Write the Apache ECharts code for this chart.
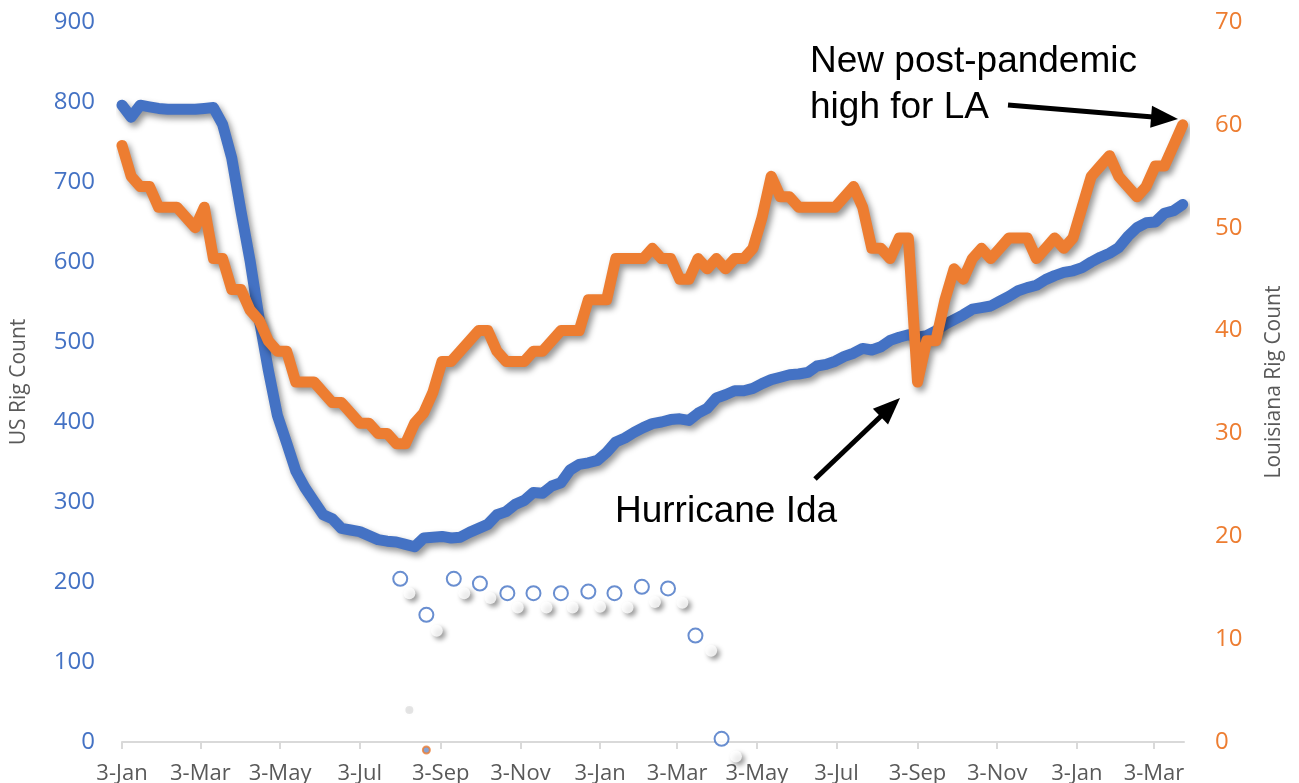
<!DOCTYPE html>
<html>
<head>
<meta charset="utf-8">
<script src="https://cdn.jsdelivr.net/npm/echarts@6/dist/echarts.min.js"></script>
<style>html,body{margin:0;padding:0;background:#fff}#chart{width:1299px;height:783px}</style>
</head>
<body>
<div id="chart"></div>
<script>
// ---- data (weekly, Fridays) ----
const firstWeek = '2020-01-03';
const weekCount = 117;
const usRigCount = [
  796, 781, 796, 794, 792, 791, 791, 791, 791, 792, 793, 772, 730, 664, 602, 529, 465, 408, 374, 339,
  318, 301, 284, 279, 267, 265, 263, 258, 253, 251, 250, 247, 244, 255, 256, 257, 255, 256, 262, 267,
  272, 284, 288, 297, 302, 312, 311, 320, 324, 340, 347, 349, 352, 362, 375, 380, 387, 393, 398, 400,
  403, 404, 402, 411, 417, 430, 434, 439, 439, 442, 448, 453, 456, 459, 460, 462, 470, 472, 476, 482,
  486, 492, 490, 494, 502, 506, 509, 506, 508, 514, 522, 528, 534, 541, 543, 545, 551, 557, 564, 568,
  571, 578, 583, 587, 589, 593, 600, 606, 611, 618, 632, 643, 649, 650, 661, 664, 672
];
const laRigCount = [
  58, 55, 54, 54, 52, 52, 52, 51, 50, 52, 47, 47, 44, 44, 42, 41, 39, 38, 38, 35,
  35, 35, 34, 33, 33, 32, 31, 31, 30, 30, 29, 29, 31, 32, 34, 37, 37, 38, 39, 40,
  40, 38, 37, 37, 37, 38, 38, 39, 40, 40, 40, 43, 43, 43, 47, 47, 47, 47, 48, 47,
  47, 45, 45, 47, 46, 47, 46, 47, 47, 48, 51, 55, 53, 53, 52, 52, 52, 52, 52, 53,
  54, 52, 48, 48, 47, 49, 49, 35, 39, 39, 43, 46, 45, 47, 48, 47, 48, 49, 49, 49,
  47, 48, 49, 48, 49, 52, 55, 56, 57, 55, 54, 53, 54, 56, 56, 58, 60
];
const tickDates = [
  '2020-01-03', '2020-03-03', '2020-05-03', '2020-07-03', '2020-09-03', '2020-11-03',
  '2021-01-03', '2021-03-03', '2021-05-03', '2021-07-03', '2021-09-03', '2021-11-03',
  '2022-01-03', '2022-03-03'
];
const axisEndDate = '2022-03-26';
const monthNames = ['Jan','Feb','Mar','Apr','May','Jun','Jul','Aug','Sep','Oct','Nov','Dec'];

// stray markers visible in the reference
const circleDates = ['2020-08-03','2020-08-23','2020-09-13','2020-10-03','2020-10-24','2020-11-13',
  '2020-12-04','2020-12-25','2021-01-14','2021-02-04','2021-02-24','2021-03-17','2021-04-06'];
const circleValues = [204, 159, 204, 198, 186, 186, 186, 188, 186, 194, 192, 133, 4];
const whiteDotDates = ['2020-08-10','2020-08-31','2020-09-21','2020-10-11','2020-11-01','2020-11-23',
  '2020-12-13','2021-01-03','2021-01-24','2021-02-14','2021-03-07','2021-03-29','2021-04-17'];
const whiteDotValues = [186, 139, 186, 180, 168, 168, 168, 169, 168, 175, 174, 114, -18];
const greyDotDates = ['2020-08-10'];
const greyDotValues = [40];
const orangeDotDates = ['2020-08-23'];
const orangeDotValues = [-10];

// ---- build ----
const DAY = 86400000;
const ts = s => Date.parse(s + 'T00:00:00Z');
const t0 = ts(firstWeek);
const weeks = [];
for (let i = 0; i < weekCount; i++) weeks.push(t0 + i * 7 * DAY);
const usData = weeks.map((t, i) => [t, usRigCount[i]]);
const laData = weeks.map((t, i) => [t, laRigCount[i]]);
const pairs = (d, v) => d.map((s, i) => [ts(s), v[i]]);
const tickValues = tickDates.map(ts);

const BLUE = '#4472C4', ORANGE = '#ED7D31', GREY = '#595959';
const FONT = '"Open Sans", "Noto Sans", sans-serif';
const ANNO_FONT = '37px "Liberation Sans", Arial, sans-serif';

function arrow(x1, y1, x2, y2, headLen, headHalf, width) {
  const dx = x2 - x1, dy = y2 - y1, len = Math.hypot(dx, dy);
  const ux = dx / len, uy = dy / len, px = -uy, py = ux;
  const bx = x2 - ux * headLen, by = y2 - uy * headLen;
  return [
    { type: 'line', shape: { x1: x1, y1: y1, x2: bx + ux * 2, y2: by + uy * 2 },
      style: { stroke: '#000', lineWidth: width }, z: 100 },
    { type: 'polygon', shape: { points: [[x2, y2], [bx + px * headHalf, by + py * headHalf], [bx - px * headHalf, by - py * headHalf]] },
      style: { fill: '#000' }, z: 100 }
  ];
}

const chart = echarts.init(document.getElementById('chart'), null, { renderer: 'canvas' });
chart.setOption({
  backgroundColor: '#ffffff',
  animation: false,
  grid: { left: 122, right: 115, top: 22, bottom: 41, containLabel: false, outerBoundsMode: 'none' },
  xAxis: {
    type: 'value',
    min: t0,
    max: ts(axisEndDate),
    splitLine: { show: false },
    axisLine: { show: true, lineStyle: { color: '#D9D9D9', width: 2 } },
    axisTick: { show: true, customValues: tickValues, length: 7, lineStyle: { color: '#D9D9D9', width: 2 } },
    axisLabel: {
      customValues: tickValues,
      margin: 21,
      color: GREY, fontSize: 22, fontFamily: FONT,
      formatter: v => { const d = new Date(v); return d.getUTCDate() + '-' + monthNames[d.getUTCMonth()]; }
    }
  },
  yAxis: [
    {
      type: 'value', min: 0, max: 900, interval: 100, position: 'left',
      name: 'US Rig Count', nameLocation: 'middle', nameGap: 92, nameRotate: 90,
      nameTextStyle: { color: GREY, fontSize: 21, fontFamily: FONT },
      splitLine: { show: false }, axisLine: { show: false }, axisTick: { show: false },
      axisLabel: { color: BLUE, fontSize: 24, fontFamily: FONT, margin: 27 }
    },
    {
      type: 'value', min: 0, max: 70, interval: 10, position: 'right',
      name: 'Louisiana Rig Count', nameLocation: 'middle', nameGap: 80, nameRotate: 90,
      nameTextStyle: { color: GREY, fontSize: 21, fontFamily: FONT },
      splitLine: { show: false }, axisLine: { show: false }, axisTick: { show: false },
      axisLabel: { color: ORANGE, fontSize: 24, fontFamily: FONT, margin: 31 }
    }
  ],
  series: [
    {
      name: 'US Rig Count', type: 'line', yAxisIndex: 0, data: usData,
      symbol: 'none', smooth: false, z: 2,
      lineStyle: { color: BLUE, width: 11, join: 'round', cap: 'round',
        shadowColor: 'rgba(0,0,0,0.42)', shadowBlur: 6, shadowOffsetX: 3, shadowOffsetY: 4 }
    },
    {
      name: 'Louisiana Rig Count', type: 'line', yAxisIndex: 1, data: laData,
      symbol: 'none', smooth: false, z: 3,
      lineStyle: { color: ORANGE, width: 11, join: 'round', cap: 'round',
        shadowColor: 'rgba(0,0,0,0.42)', shadowBlur: 6, shadowOffsetX: 3, shadowOffsetY: 4 }
    },
    {
      type: 'scatter', yAxisIndex: 0, data: pairs(whiteDotDates, whiteDotValues), clip: false,
      symbol: 'circle', symbolSize: 12, z: 4, silent: true,
      itemStyle: { color: '#ffffff', shadowColor: 'rgba(0,0,0,0.5)', shadowBlur: 5, shadowOffsetX: 3, shadowOffsetY: 3 }
    },
    {
      type: 'scatter', yAxisIndex: 0, data: pairs(circleDates, circleValues), clip: false,
      symbol: 'circle', symbolSize: 14, z: 5, silent: true,
      itemStyle: { color: '#ffffff', borderColor: BLUE, borderWidth: 2 }
    },
    {
      type: 'scatter', yAxisIndex: 0, data: pairs(greyDotDates, greyDotValues), clip: false,
      symbol: 'circle', symbolSize: 8, z: 4, silent: true,
      itemStyle: { color: 'rgba(0,0,0,0.12)', shadowColor: 'rgba(0,0,0,0.25)', shadowBlur: 5 }
    },
    {
      type: 'scatter', yAxisIndex: 0, data: pairs(orangeDotDates, orangeDotValues), clip: false,
      symbol: 'circle', symbolSize: 7, z: 5, silent: true,
      itemStyle: { color: '#6A8CC8', borderColor: ORANGE, borderWidth: 2 }
    }
  ],
  graphic: [
    { type: 'text', left: 810, top: 43, z: 100,
      style: { text: 'New post-pandemic', fill: '#000', font: ANNO_FONT } },
    { type: 'text', left: 810, top: 89, z: 100,
      style: { text: 'high for LA', fill: '#000', font: ANNO_FONT } },
    { type: 'text', left: 615, top: 493, z: 100,
      style: { text: 'Hurricane Ida', fill: '#000', font: ANNO_FONT } }
  ].concat(arrow(1008, 105, 1178, 119, 27, 11, 5)).concat(arrow(815, 479, 900, 398, 27, 11, 5))
});
</script>
</body>
</html>
